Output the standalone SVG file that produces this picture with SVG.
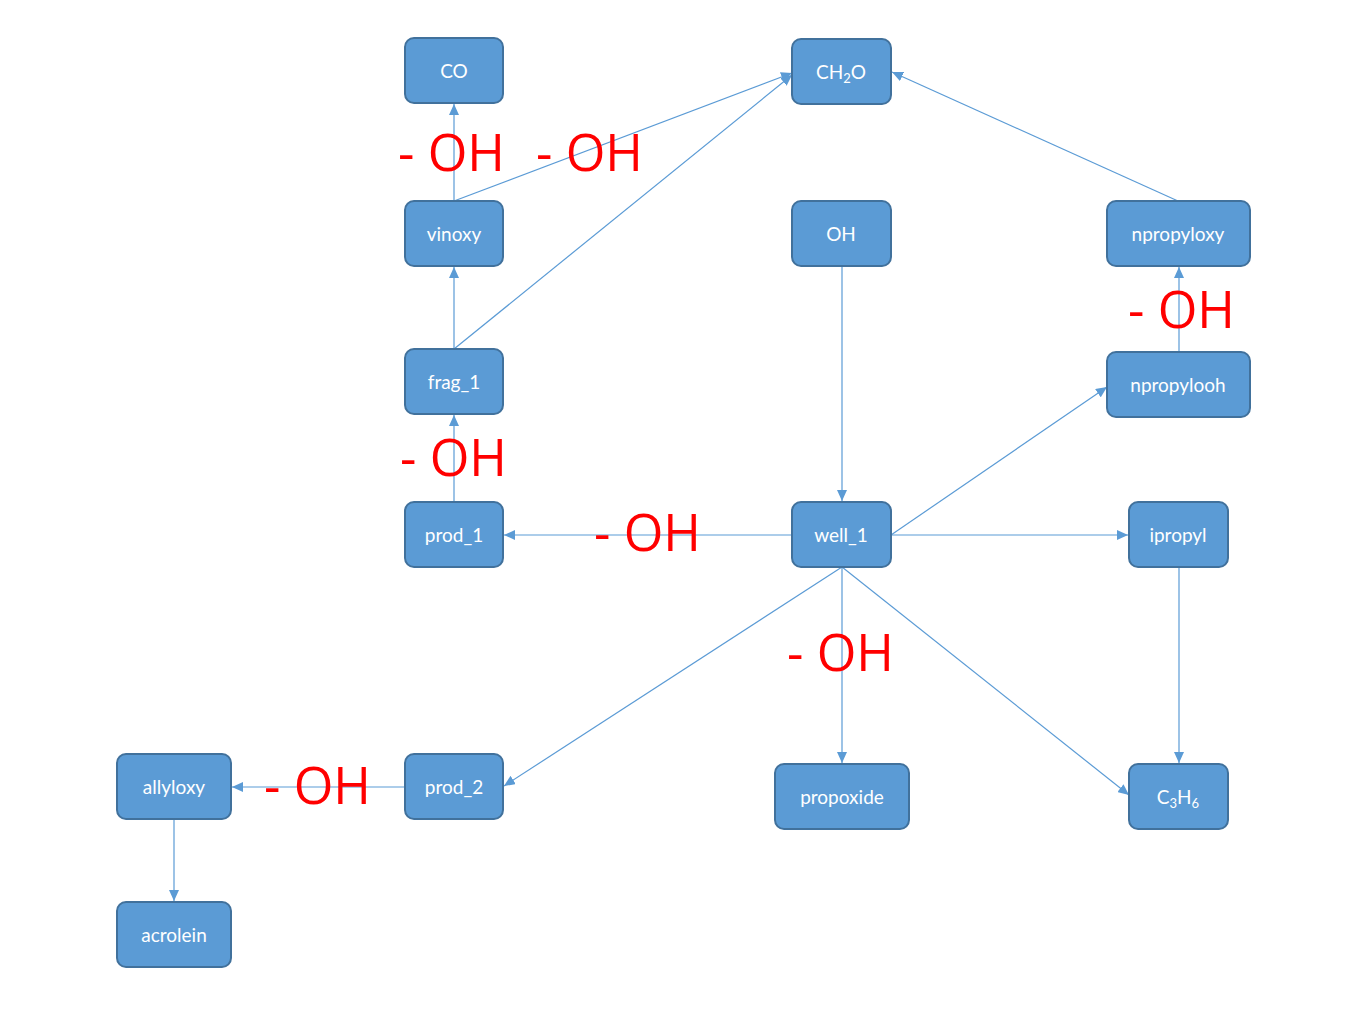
<svg xmlns="http://www.w3.org/2000/svg" width="1357" height="1022" viewBox="0 0 1357 1022">
<style>
.n rect{fill:#5B9BD5;stroke:#41719C;stroke-width:2}
.n text{fill:#fff;font-family:Lato,"Open Sans",sans-serif;font-size:19px;text-anchor:middle}
.e line{stroke:#5B9BD5;stroke-width:1.2;fill:none;marker-end:url(#a)}
.l{fill:#FF0000;font-family:"Open Sans",Lato,sans-serif;font-size:51px}
</style>
<defs>
<marker id="a" markerUnits="userSpaceOnUse" markerWidth="11" markerHeight="10" viewBox="0 0 11 10" refX="11" refY="5" orient="auto">
<path d="M0,0 L11,5 L0,10 z" fill="#5B9BD5"/>
</marker>
</defs>
<rect width="1357" height="1022" fill="#fff"/>
<g class="e" id="connectors">
<line x1="454" y1="201" x2="454" y2="104"/>
<line x1="454" y1="201" x2="792" y2="73"/>
<line x1="454" y1="349" x2="454" y2="267"/>
<line x1="454" y1="349" x2="792" y2="75"/>
<line x1="1178" y1="201" x2="892" y2="72"/>
<line x1="1179" y1="352" x2="1179" y2="267"/>
<line x1="842" y1="266" x2="842" y2="501"/>
<line x1="454" y1="502" x2="454" y2="415"/>
<line x1="792" y1="535" x2="504" y2="535"/>
<line x1="891" y1="535" x2="1107" y2="387"/>
<line x1="891" y1="535" x2="1128" y2="535"/>
<line x1="842" y1="567" x2="504" y2="786"/>
<line x1="842" y1="567" x2="842" y2="763"/>
<line x1="842" y1="567" x2="1129" y2="795"/>
<line x1="1179" y1="567" x2="1179" y2="763"/>
<line x1="405" y1="787" x2="232" y2="787"/>
<line x1="174" y1="819" x2="174" y2="901"/>
</g>
<g id="labels">
<text class="l" x="398" y="171">- OH</text>
<text class="l" x="536" y="171">- OH</text>
<text class="l" x="1128" y="328">- OH</text>
<text class="l" x="400" y="476">- OH</text>
<text class="l" x="594" y="551">- OH</text>
<text class="l" x="787" y="671">- OH</text>
<text class="l" x="264" y="804">- OH</text>
</g>
<g class="n" id="CO"><rect x="405" y="38" width="98" height="65" rx="9"/><text x="454" y="78">CO</text></g>
<g class="n" id="CH2O"><rect x="792" y="39" width="99" height="65" rx="9"/><text x="841" y="79">CH<tspan font-size="13" dy="4">2</tspan><tspan dy="-4">O</tspan></text></g>
<g class="n" id="vinoxy"><rect x="405" y="201" width="98" height="65" rx="9"/><text x="454" y="241">vinoxy</text></g>
<g class="n" id="OH"><rect x="792" y="201" width="99" height="65" rx="9"/><text x="841" y="241">OH</text></g>
<g class="n" id="npropyloxy"><rect x="1107" y="201" width="143" height="65" rx="9"/><text x="1178" y="241">npropyloxy</text></g>
<g class="n" id="frag_1"><rect x="405" y="349" width="98" height="65" rx="9"/><text x="454" y="389">frag_1</text></g>
<g class="n" id="npropylooh"><rect x="1107" y="352" width="143" height="65" rx="9"/><text x="1178" y="392">npropylooh</text></g>
<g class="n" id="prod_1"><rect x="405" y="502" width="98" height="65" rx="9"/><text x="454" y="542">prod_1</text></g>
<g class="n" id="well_1"><rect x="792" y="502" width="99" height="65" rx="9"/><text x="841" y="542">well_1</text></g>
<g class="n" id="ipropyl"><rect x="1129" y="502" width="99" height="65" rx="9"/><text x="1178" y="542">ipropyl</text></g>
<g class="n" id="allyloxy"><rect x="117" y="754" width="114" height="65" rx="9"/><text x="174" y="794">allyloxy</text></g>
<g class="n" id="prod_2"><rect x="405" y="754" width="98" height="65" rx="9"/><text x="454" y="794">prod_2</text></g>
<g class="n" id="propoxide"><rect x="775" y="764" width="134" height="65" rx="9"/><text x="842" y="804">propoxide</text></g>
<g class="n" id="C3H6"><rect x="1129" y="764" width="99" height="65" rx="9"/><text x="1178" y="804">C<tspan font-size="13" dy="4">3</tspan><tspan dy="-4">H</tspan><tspan font-size="13" dy="4">6</tspan></text></g>
<g class="n" id="acrolein"><rect x="117" y="902" width="114" height="65" rx="9"/><text x="174" y="942">acrolein</text></g>
</svg>
